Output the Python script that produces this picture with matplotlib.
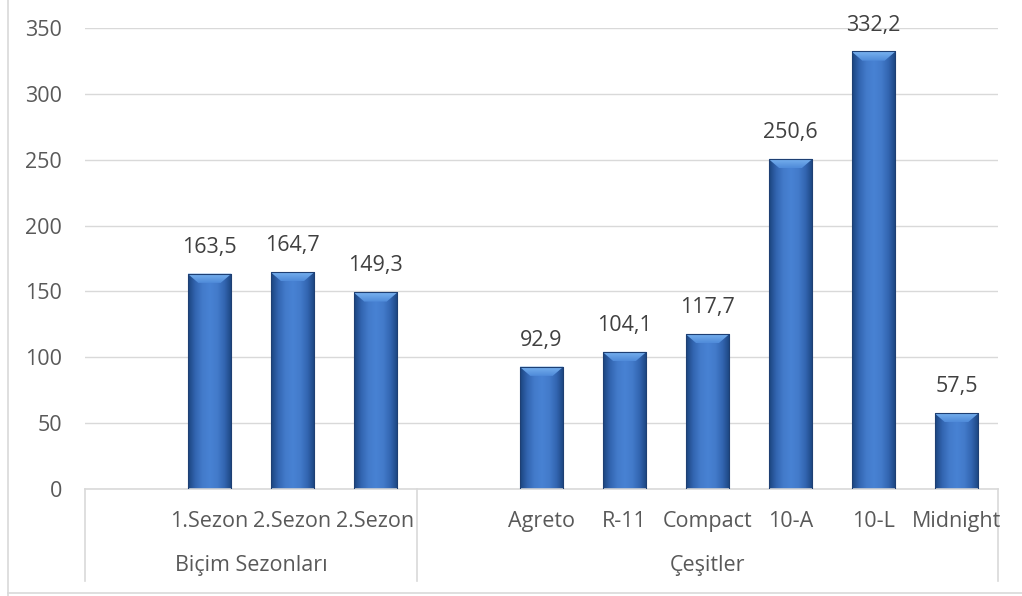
import matplotlib.pyplot as plt
import numpy as np
from matplotlib.colors import LinearSegmentedColormap
from matplotlib.patches import Polygon, Rectangle
from matplotlib.lines import Line2D

# Bar values, two category groups each with a leading empty slot
group_names = ["Biçim Sezonları", "Çeşitler"]
season_labels = ["1.Sezon", "2.Sezon", "2.Sezon"]
season_values = [163.5, 164.7, 149.3]
variety_labels = ["Agreto", "R-11", "Compact", "10-A", "10-L", "Midnight"]
variety_values = [92.9, 104.1, 117.7, 250.6, 332.2, 57.5]
y_ticks = [0, 50, 100, 150, 200, 250, 300, 350]

FONT = "Open Sans"
FSIZE = 15.5
TICK_COLOR = "#595959"
LABEL_COLOR = "#404040"
GRID_COLOR = "#D9D9D9"


def fmt(v):
    return f"{v:.1f}".replace(".", ",")


def draw_bar(ax, x, h, width, cmap, bevel_cmap):
    x0, x1 = x - width / 2, x + width / 2
    rect = Rectangle((x0, 0), width, h, facecolor="none", edgecolor="none")
    ax.add_patch(rect)
    grad = np.linspace(0, 1, 64).reshape(1, -1)
    im = ax.imshow(grad, cmap=cmap, extent=(x0, x1, 0, h), aspect="auto",
                   interpolation="bicubic", zorder=2)
    im.set_clip_path(rect)
    # bevel on top of the bar
    bx, by = 0.13, 7.0
    top = Polygon([(x0, h), (x1, h), (x1 - bx, h - by), (x0 + bx, h - by)],
                  closed=True, facecolor="none", edgecolor="none", zorder=3)
    ax.add_patch(top)
    vgrad = np.linspace(0, 1, 32).reshape(-1, 1)
    bim = ax.imshow(vgrad, cmap=bevel_cmap, extent=(x0, x1, h - by, h), aspect="auto",
                    interpolation="bicubic", zorder=3, origin="lower")
    bim.set_clip_path(top)
    ax.add_patch(Rectangle((x0, 0), width, h, facecolor="none",
                           edgecolor="#1E3F73", linewidth=0.8, zorder=4))


def main():
    plt.rcParams["font.family"] = [FONT, "DejaVu Sans"]
    fig = plt.figure(figsize=(10.22, 5.96), dpi=100)
    W, H = 1022, 596
    left, right, bottom, top = 85, 998, 489, 28
    ax = fig.add_axes([left / W, 1 - bottom / H, (right - left) / W, (bottom - top) / H])

    cmap = LinearSegmentedColormap.from_list(
        "bar", ["#1C4580", "#3366B2", "#437BCB", "#4882D3", "#437BCB", "#3366B2", "#1C4580"])
    bevel_cmap = LinearSegmentedColormap.from_list("bevel", ["#4F8BD9", "#7AB3F0"])

    n1 = len(season_labels) + 1
    n2 = len(variety_labels) + 1
    pos1 = np.arange(1, n1)
    pos2 = np.arange(n1 + 1, n1 + n2)
    positions = np.concatenate([pos1, pos2])
    values = season_values + variety_values
    labels = season_labels + variety_labels

    width = 0.53
    for x, v in zip(positions, values):
        draw_bar(ax, x, v, width, cmap, bevel_cmap)
        ax.annotate(fmt(v), (x, v), xytext=(0, 19), textcoords="offset points",
                    ha="center", va="center", fontsize=FSIZE, color=LABEL_COLOR)

    ax.set_xlim(-0.5, n1 + n2 - 0.5)
    ax.set_ylim(0, 350)
    ax.set_yticks(y_ticks)
    ax.set_yticklabels([str(t) for t in y_ticks], fontsize=FSIZE, color=TICK_COLOR)
    ax.tick_params(axis="y", length=0, pad=16.5)
    ax.set_xticks([])
    ax.grid(axis="y", color=GRID_COLOR, linewidth=1)
    ax.set_axisbelow(True)
    for s in ["left", "right", "top"]:
        ax.spines[s].set_visible(False)
    ax.spines["bottom"].set_color(GRID_COLOR)
    ax.spines["bottom"].set_linewidth(1.2)

    # multi-level category axis
    trans = ax.get_xaxis_transform()
    for x, lab in zip(positions, labels):
        ax.text(x, -0.07, lab, transform=trans, ha="center", va="center",
                fontsize=FSIZE, color=TICK_COLOR)
    bounds = [-0.5, n1 - 0.5, n1 + n2 - 0.5]
    for b in bounds:
        ax.add_line(Line2D([b, b], [0, -0.2], transform=trans, color=GRID_COLOR,
                           linewidth=1.2, clip_on=False))
    for name, a, b in zip(group_names, bounds[:-1], bounds[1:]):
        ax.text((a + b) / 2, -0.165, name, transform=trans, ha="center", va="center",
                fontsize=FSIZE, color=TICK_COLOR)

    # chart frame
    fig.add_artist(Line2D([8 / W, 8 / W], [0, 1], color=GRID_COLOR, linewidth=1.2))
    fig.add_artist(Line2D([8 / W, 1], [3.5 / H, 3.5 / H], color=GRID_COLOR, linewidth=1.2))

    fig.savefig("out.png", dpi=100)
    plt.close(fig)


if __name__ == "__main__":
    main()
